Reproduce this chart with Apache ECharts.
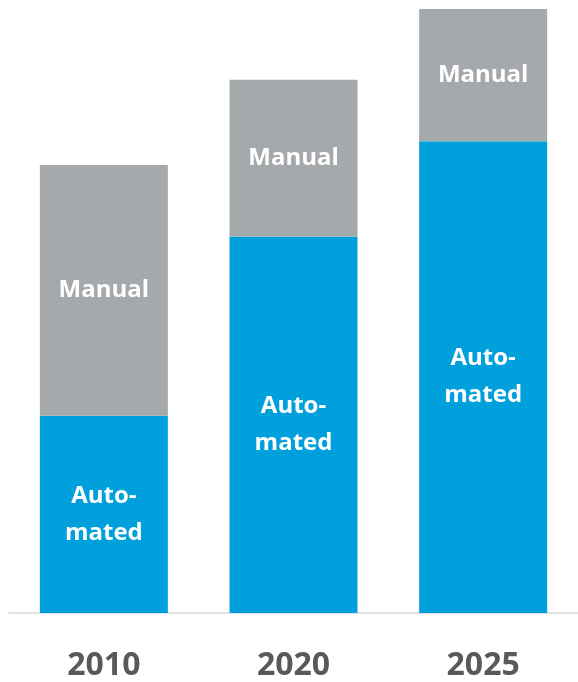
<!DOCTYPE html>
<html>
<head>
<meta charset="utf-8">
<script src="https://cdn.jsdelivr.net/npm/echarts@6/dist/echarts.min.js"></script>
<style>
html,body{margin:0;padding:0;background:#fff;}
#chart{width:578px;height:682px;}
</style>
</head>
<body>
<div id="chart"></div>
<script>
var categories = ['2010', '2020', '2025'];
var automated = [44, 84, 105.3];
var manual = [56, 35, 29.5];
var automatedLabel = 'Auto-\nmated';
var manualLabel = 'Manual';

var chart = echarts.init(document.getElementById('chart'), null, {renderer: 'canvas'});
var labelStyle = {
  show: true,
  position: 'inside',
  color: '#ffffff',
  fontFamily: 'Open Sans',
  fontWeight: 'bold',
  fontSize: 24,
  lineHeight: 37,
  align: 'center'
};
chart.setOption({
  animation: false,
  grid: {left: 9, width: 576, top: 0, bottom: 69},
  xAxis: {
    type: 'category',
    data: categories,
    axisTick: {show: false},
    axisLine: {lineStyle: {color: '#D9D9D9', width: 1.5}},
    axisLabel: {
      color: '#595959',
      fontFamily: 'Open Sans',
      fontWeight: 'bold',
      fontSize: 32,
      margin: 37
    }
  },
  yAxis: {
    type: 'value',
    min: 0,
    max: 136.8,
    show: false,
    splitLine: {show: false}
  },
  series: [
    {
      name: 'Automated',
      type: 'bar',
      stack: 'total',
      barWidth: 128,
      data: automated,
      itemStyle: {color: '#00A0DC'},
      label: Object.assign({}, labelStyle, {formatter: automatedLabel})
    },
    {
      name: 'Manual',
      type: 'bar',
      stack: 'total',
      barWidth: 128,
      data: manual,
      itemStyle: {color: '#A5A9AC'},
      label: Object.assign({}, labelStyle, {formatter: manualLabel})
    }
  ]
});
</script>
</body>
</html>
